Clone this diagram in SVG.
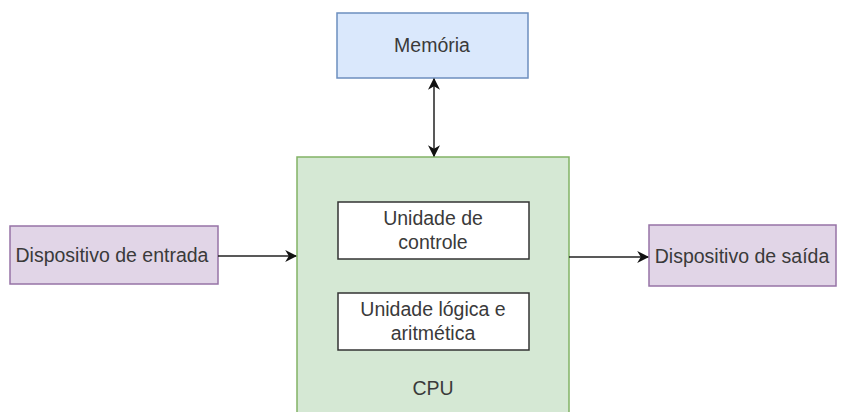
<svg xmlns="http://www.w3.org/2000/svg" width="846" height="412" viewBox="0 0 846 412">
<defs>
<style>
text{font-family:"Liberation Sans",Arial,sans-serif;font-size:19.5px;fill:#3a3a3a;text-anchor:middle;dominant-baseline:central}
.c{stroke:#222;stroke-width:1.5;fill:none}
</style>
<marker id="ah" viewBox="0 0 10 10" refX="9" refY="5" markerWidth="12" markerHeight="12" markerUnits="userSpaceOnUse" orient="auto-start-reverse">
<path d="M0,0 L10,5 L0,10 L3,5 Z" fill="#111"/>
</marker>
</defs>
<rect width="846" height="412" fill="#fff"/>
<g id="cpu">
<rect x="297" y="157" width="272" height="265" fill="#d5e8d4" stroke="#82b366" stroke-width="1.5"/>
<text x="433" y="388">CPU</text>
</g>
<g id="memoria">
<rect x="337" y="13" width="191" height="65" fill="#dae8fc" stroke="#6c8ebf" stroke-width="1.5"/>
<text x="432" y="45">Memória</text>
</g>
<g id="controle">
<rect x="338" y="202" width="191" height="57" fill="#fff" stroke="#333" stroke-width="1.5"/>
<text x="433" y="218">Unidade de</text>
<text x="433" y="242">controle</text>
</g>
<g id="ula">
<rect x="338" y="293" width="191" height="57" fill="#fff" stroke="#333" stroke-width="1.5"/>
<text x="433" y="309">Unidade lógica e</text>
<text x="433" y="333">aritmética</text>
</g>
<g id="entrada">
<rect x="10" y="226" width="208" height="58" fill="#e1d5e7" stroke="#9673a6" stroke-width="1.5"/>
<text x="112" y="255">Dispositivo de entrada</text>
</g>
<g id="saida">
<rect x="649" y="225" width="187" height="61" fill="#e1d5e7" stroke="#9673a6" stroke-width="1.5"/>
<text x="742" y="256">Dispositivo de saída</text>
</g>
<g id="connectors">
<line class="c" x1="434" y1="79" x2="434" y2="156" marker-start="url(#ah)" marker-end="url(#ah)"/>
<line class="c" x1="218" y1="256" x2="296" y2="256" marker-end="url(#ah)"/>
<line class="c" x1="569" y1="257" x2="648" y2="257" marker-end="url(#ah)"/>
</g>
</svg>
